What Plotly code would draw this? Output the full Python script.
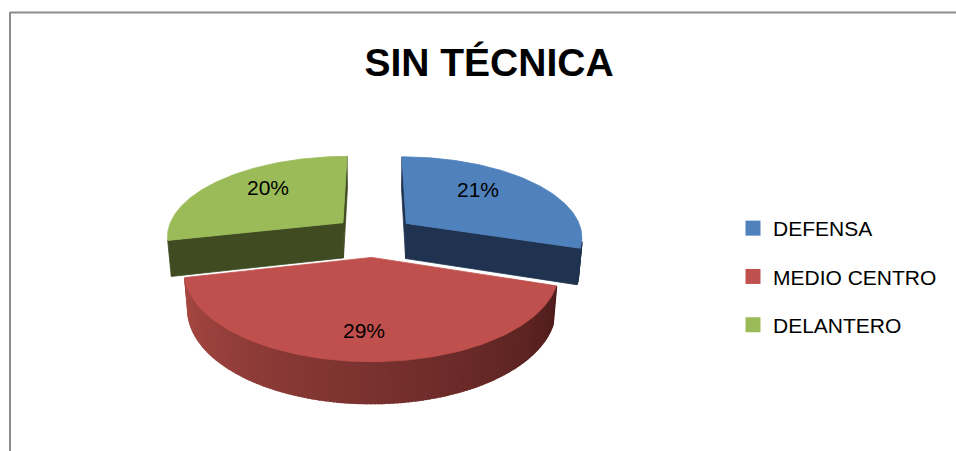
import math
import plotly.graph_objects as go

# ---------------- data ----------------
categories = ["DEFENSA", "MEDIO CENTRO", "DELANTERO"]
values = [21, 29, 20]
value_labels = ["21%", "29%", "20%"]

# ---------------- styles ----------------
top_colors = ["#4F81BD", "#C0504D", "#9BBB59"]
side_light = [(31, 51, 80), (168, 72, 67), (64, 75, 34)]
side_dark = [(31, 51, 80), (78, 29, 28), (64, 75, 34)]

W, H = 956, 451
CX, CY = 374, 234          # projected pie centre (px)
F = 1039                   # focal scale (vertical)
FX = F * 0.98              # horizontal scale
DIST = 5.77                # camera distance (pie radius units)
SA = 0.444                 # sin(tilt)
CA = math.sqrt(1 - SA * SA)
THICK = 0.225              # pie thickness
EXPLODE = [0.23, 0.28, 0.23]
label_r = [0.55, 0.74, 0.60]
label_up = [10, 0, 8]

CAM = (0.0, -DIST * CA, DIST * SA)


def proj(u, v, z):
    d = DIST + v * CA - z * SA
    return CX + FX * u / d, CY - F * (v * SA + z * CA) / d


def visible(n, p):
    return n[0] * (CAM[0] - p[0]) + n[1] * (CAM[1] - p[1]) > 1e-9


def rgb(c):
    return "rgb(%d,%d,%d)" % tuple(int(round(x)) for x in c)


def poly_trace(pts, color, lw=0.8):
    xs = [p[0] for p in pts] + [pts[0][0]]
    ys = [p[1] for p in pts] + [pts[0][1]]
    return go.Scatter(x=xs, y=ys, mode="lines", fill="toself", fillcolor=color,
                      line=dict(color=color, width=lw), hoverinfo="skip",
                      showlegend=False)


total = float(sum(values))
slices = []
acc = 0.0
for i, v in enumerate(values):
    a0 = acc / total * 2 * math.pi
    acc += v
    a1 = acc / total * 2 * math.pi
    mid = (a0 + a1) / 2
    ou, ov = EXPLODE[i] * math.sin(mid), EXPLODE[i] * math.cos(mid)
    slices.append(dict(i=i, a0=a0, a1=a1, mid=mid, ou=ou, ov=ov))

traces = []
# back to front
for s in sorted(slices, key=lambda s: -s["ov"]):
    i, a0, a1, ou, ov = s["i"], s["a0"], s["a1"], s["ou"], s["ov"]
    # radial faces
    for a, n in ((a0, (-math.cos(a0), math.sin(a0))), (a1, (math.cos(a1), -math.sin(a1)))):
        p = (ou + 0.5 * math.sin(a), ov + 0.5 * math.cos(a))
        if visible(n, p):
            ru, rv = ou + math.sin(a), ov + math.cos(a)
            pts = [proj(ou, ov, 0), proj(ru, rv, 0), proj(ru, rv, -THICK), proj(ou, ov, -THICK)]
            traces.append(poly_trace(pts, rgb(side_dark[i])))
    # curved side
    nseg = max(4, int(math.degrees(a1 - a0) / 1.0))
    for k in range(nseg):
        t0 = a0 + (a1 - a0) * k / nseg
        t1 = a0 + (a1 - a0) * (k + 1) / nseg
        tm = (t0 + t1) / 2
        n = (math.sin(tm), math.cos(tm))
        p = (ou + n[0], ov + n[1])
        if not visible(n, p):
            continue
        frac = (tm - a0) / (a1 - a0)
        col = tuple(side_dark[i][j] + frac * (side_light[i][j] - side_dark[i][j]) for j in range(3))
        u0, v0 = ou + math.sin(t0), ov + math.cos(t0)
        u1, v1 = ou + math.sin(t1), ov + math.cos(t1)
        pts = [proj(u0, v0, 0), proj(u1, v1, 0), proj(u1, v1, -THICK), proj(u0, v0, -THICK)]
        traces.append(poly_trace(pts, rgb(col), lw=2))
    # top face
    pts = [proj(ou, ov, 0)]
    m = 120
    for k in range(m + 1):
        t = a0 + (a1 - a0) * k / m
        pts.append(proj(ou + math.sin(t), ov + math.cos(t), 0))
    traces.append(poly_trace(pts, top_colors[i]))

fig = go.Figure(traces)

# legend entries
for i, name in enumerate(categories):
    fig.add_trace(go.Scatter(x=[None], y=[None], mode="markers", name=name,
                             legendgroup=str(i),
                             marker=dict(symbol="square", size=15, color=top_colors[i])))

# data labels
for s in slices:
    i = s["i"]
    r = label_r[i]
    lx, ly = proj(s["ou"] + r * math.sin(s["mid"]), s["ov"] + r * math.cos(s["mid"]), 0)
    fig.add_annotation(x=lx, y=ly, text=value_labels[i], showarrow=False,
                       yshift=label_up[i],
                       font=dict(family="Liberation Sans", size=21, color="#000000"))

fig.update_layout(
    width=W, height=H, autosize=False,
    margin=dict(l=0, r=0, t=0, b=0),
    paper_bgcolor="white", plot_bgcolor="white",
    title=dict(text="<b>SIN TÉCNICA</b>", x=489 / W, xanchor="center",
               y=1 - 62 / H, yanchor="middle",
               font=dict(family="Liberation Sans", size=39, color="#000000")),
    xaxis=dict(range=[0, W], visible=False, fixedrange=True),
    yaxis=dict(range=[H, 0], visible=False, fixedrange=True),
    legend=dict(x=733 / W, y=1 - 208 / H, xanchor="left", yanchor="top",
                font=dict(family="Liberation Sans", size=21, color="#000000"),
                tracegroupgap=18, bgcolor="rgba(0,0,0,0)"),
    shapes=[
        dict(type="line", xref="paper", yref="paper", x0=10 / W, x1=1, y0=1 - 12.5 / H, y1=1 - 12.5 / H,
             line=dict(color="#8C8C8C", width=2)),
        dict(type="line", xref="paper", yref="paper", x0=10 / W, x1=10 / W, y0=0, y1=1 - 12 / H,
             line=dict(color="#8C8C8C", width=2)),
    ],
    showlegend=True,
)

fig.write_html("out.html", config={"displayModeBar": False},
               post_script="document.body.style.margin='0';document.body.style.overflow='hidden';")
